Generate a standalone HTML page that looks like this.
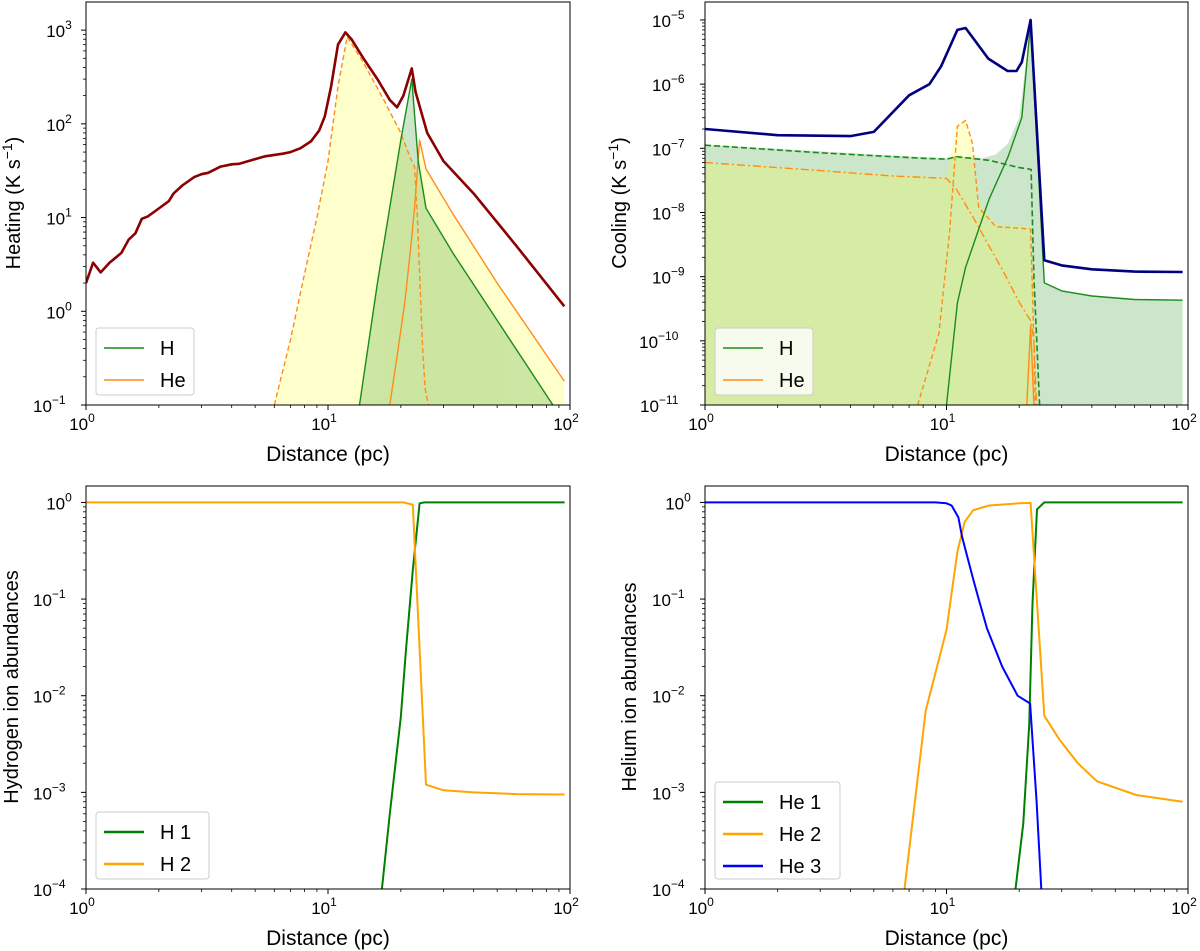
<!DOCTYPE html>
<html><head><meta charset="utf-8"><style>
html,body{margin:0;padding:0;background:#fff;}
svg{display:block;font-family:"Liberation Sans","DejaVu Sans",sans-serif;}
</style></head><body>
<svg id="fig" width="1200" height="951" viewBox="0 0 1200 951"></svg>
<script>
// ---------- Data (x in pc, y values) ----------
const heatTotalX=[1,1.07,1.15,1.25,1.4,1.5,1.6,1.7,1.8,2,2.2,2.3,2.5,2.8,3,3.2,3.6,4,4.3,5,5.5,6.5,7,7.7,8.5,9.2,9.7,10.3,11,11.8,12.5,14,16,18,19.3,20.5,22.2,23,25.7,30,40,60,94.7];
const heatTotalY=[2,3.3,2.6,3.3,4.2,5.8,6.8,9.7,10.3,12.5,15,18,22,27,29,30,35,37,37.5,42,45,48,50,55,65,85,120,250,700,945,800,500,300,180,150,200,390,220,80,40,18,5,1.13];
const heHeatDashX=[6,7,8,9,10,11,12,14,17,20,21.9,22.8,23.4,24,24.6,25.2,26];
const heHeatDashY=[0.1,0.5,2.5,10,40,250,850,450,180,80,43,35,10,2,0.4,0.15,0.1];
const heHeatSolidX=[18,19.5,20.8,22,22.8,23.9,25.4,32.8,50,94.7];
const heHeatSolidY=[0.1,0.4,1.3,5,13,67,33,11,2,0.18];
const hHeatX=[13.5,16,20,22.2,23.6,25.4,32.8,50,85];
const hHeatY=[0.1,2,67,300,40,12.6,4.2,0.8,0.1];

const coolTotalX=[1,2,4,5,7,8.5,9.5,11.1,12,14.9,17.9,19.5,20.5,22.3,25.4,30,40,60,95];
const coolTotalY=[2e-7,1.6e-7,1.55e-7,1.8e-7,6.7e-7,1e-6,1.9e-6,7e-6,7.5e-6,2.5e-6,1.6e-6,1.6e-6,2.2e-6,1e-5,1.8e-9,1.5e-9,1.3e-9,1.2e-9,1.18e-9];
const hCoolDashX=[1,3,8,10,11,15,20,22.4,23,24.3];
const hCoolDashY=[1.12e-7,8.5e-8,7e-8,6.8e-8,7.4e-8,6.5e-8,5e-8,4.7e-8,1e-9,1e-11];
const heCoolDashDotX=[1,3,6,10,11,13,15,17,20,22.4,23,23.6];
const heCoolDashDotY=[6e-8,4.5e-8,3.7e-8,3.4e-8,2.3e-8,8e-9,3e-9,1.3e-9,4e-10,2e-10,1e-10,1e-11];
const heCoolDashX=[7.6,9.3,10.3,11.1,12,12.8,13.6,16,20,22.3,23,23.3];
const heCoolDashY=[1e-11,1.3e-10,5e-9,2.2e-7,2.7e-7,1.2e-7,1.2e-8,6e-9,5.7e-9,5.5e-9,1e-10,1e-11];
const hCoolSolidX=[10,11.1,12,15,18,20.5,22.3,25.4,30,40,60,95];
const hCoolSolidY=[1e-11,3.9e-10,1.4e-9,1.6e-8,7.4e-8,3e-7,9e-6,8e-10,6e-10,5e-10,4.4e-10,4.3e-10];
const heCoolSolidX=[21.5,22.3,23];
const heCoolSolidY=[1e-11,1.7e-10,1e-11];
const hCoolFillX=[1,5,10,11,14,16,18,20,22.3,25.4,30,40,60,95];
const hCoolFillY=[1.15e-7,8e-8,7e-8,7.5e-8,7e-8,8e-8,1.2e-7,3e-7,9e-6,8e-10,6e-10,5e-10,4.4e-10,4.3e-10];
const heCoolFillX=[1,10,11,12,12.8,13.6,16,22.3,23,23.5];
const heCoolFillY=[6e-8,3.5e-8,2.3e-7,2.9e-7,1.2e-7,1.5e-8,6.5e-9,6e-9,5e-10,1e-11];

const h1X=[16.7,18,20,21,22.4,23.9,25,40,95];
const h1Y=[1e-4,6e-4,6e-3,0.03,0.2,0.98,1,1,1];
const h2X=[1,10,20.5,22.4,25.4,30,40,60,95];
const h2Y=[1,1,1,0.95,1.2e-3,1.05e-3,1e-3,0.96e-3,0.95e-3];
const he1X=[19.3,20.8,22,22.7,23.7,25.4,40,95];
const he1Y=[1e-4,4.8e-4,5e-3,0.09,0.85,1,1,1];
const he2X=[6.7,8.2,10,11.1,11.9,12.9,15,20,22.3,25.4,29.4,35,42,61,95];
const he2Y=[1e-4,7e-3,0.048,0.31,0.63,0.83,0.93,0.98,0.99,6.2e-3,3.5e-3,2e-3,1.3e-3,9.4e-4,8e-4];
const he3X=[1,9,10,10.5,11.2,11.6,12.9,13.6,14.7,17,19.7,22.2,23.6,24.7];
const he3Y=[1,1,0.98,0.93,0.7,0.44,0.16,0.1,0.05,0.02,0.01,0.0083,8e-4,1e-4];

const xTickLabels=["0","1","2"];
const heatTickExp=["3","2","1","0","−1"];
const coolTickExp=["−5","−6","−7","−8","−9","−10","−11"];
const abTickExp=["0","−1","−2","−3","−4"];

// ---------- helpers ----------
const NS="http://www.w3.org/2000/svg";
const svg=document.getElementById('fig');
function el(tag,attrs,parent){const e=document.createElementNS(NS,tag);for(const k in attrs)e.setAttribute(k,attrs[k]);(parent||svg).appendChild(e);return e;}
const L=Math.log10;

function panel(id,x0,x1,yt,yb,ymin,ymax,decades){
  const P={id,x0,x1,yt,yb,ymin,ymax};
  P.X=v=>x0+L(v)/2*(x1-x0);
  P.Y=v=>yb-(L(v)-ymin)/(ymax-ymin)*(yb-yt);
  const cp=el('clipPath',{id:'clip'+id});
  el('rect',{x:x0,y:yt,width:x1-x0,height:yb-yt},cp);
  P.g=el('g',{'clip-path':'url(#clip'+id+')'});
  
  
  P.ax=el('g',{});
  
  
  for(let d=0;d<=2;d++){
    const x=P.X(Math.pow(10,d));
    el('line',{x1:x,x2:x,y1:yb,y2:yb+5,stroke:'#000','stroke-width':1},P.ax);
    const t=el('text',{x:x-4,y:yb+25,'font-size':17,'text-anchor':'middle',fill:'#000'},P.ax);
    
    
    t.appendChild(document.createTextNode('10'));
    const s=el('tspan',{'font-size':12,dy:-8},t);s.textContent=xTickLabels[d];
    if(d<2)for(let m=2;m<=9;m++){const xm=P.X(m*Math.pow(10,d));el('line',{x1:xm,x2:xm,y1:yb,y2:yb+3,stroke:'#000','stroke-width':0.8},P.ax);}
  }
  const top=Math.floor(ymax);
  decades.forEach((lab,i)=>{
    const dv=top-i;const y=P.Y(Math.pow(10,dv));
    el('line',{x1:x0-5,x2:x0,y1:y,y2:y,stroke:'#000','stroke-width':1},P.ax);
    const t=el('text',{x:x0-8-lab.length*6.2,y:y+7,'font-size':17,'text-anchor':'end',fill:'#000'},P.ax);
    
    
    t.appendChild(document.createTextNode('10'));
    const s=el('tspan',{'font-size':12,dy:-8},t);s.textContent=lab;
  });
  for(let d=Math.floor(ymin);d<=top;d++)for(let m=2;m<=9;m++){
    const v=L(m)+d; if(v<ymin||v>ymax)continue;
    const y=P.Y(Math.pow(10,v));
    el('line',{x1:x0-3,x2:x0,y1:y,y2:y,stroke:'#000','stroke-width':0.8},P.ax);
  }
  const xt=el('text',{x:(x0+x1)/2,y:yb+56,'font-size':21,'text-anchor':'middle',fill:'#000'},P.ax);
  
  
  xt.textContent='Distance (pc)';
  return P;
}
function frame(P){el('rect',{x:P.x0,y:P.yt,width:P.x1-P.x0,height:P.yb-P.yt,fill:'none',stroke:'#000','stroke-width':1},P.ax);svg.appendChild(P.ax);}
function pts(P,xs,ys){return xs.map((x,i)=>P.X(x).toFixed(1)+','+P.Y(ys[i]).toFixed(1)).join(' ');}
function line(P,xs,ys,color,w,dash,name){
  const e=el('polyline',{points:pts(P,xs,ys),fill:'none',stroke:color,'stroke-width':w,'stroke-linejoin':'round'},P.g);
  if(dash)e.setAttribute('stroke-dasharray',dash);
  
  
  return e;
}
function fill(P,xs,ys,color,parent,name){
  const p=pts(P,xs,ys)+' '+P.X(xs[xs.length-1]).toFixed(1)+','+(P.yb+5)+' '+P.X(xs[0]).toFixed(1)+','+(P.yb+5);
  const e=el('polygon',{points:p,fill:color,stroke:'none'},parent||P.g);
  
  
}
function ytitle(x,y,parts,name){
  const t=el('text',{transform:'translate('+x+','+y+') rotate(-90)','font-size':20,'text-anchor':'middle',fill:'#000'});
  
  
  parts.forEach(p=>{const s=el('tspan',p.sup?{'font-size':14,dy:-8}:(p.down?{dy:8}:{}),t);s.textContent=p.t;});
}
function legend(x,y,w,h,entries,name){
  const g=el('g',{});
  
  
  el('rect',{x:x,y:y,width:w,height:h,rx:3,fill:'#fff','fill-opacity':0.8,stroke:'#ccc','stroke-width':1},g);
  entries.forEach((en,i)=>{
    const yy=y+20+i*32;
    const ln=el('line',{x1:x+8,x2:x+48,y1:yy,y2:yy,stroke:en.c,'stroke-width':en.w||1.5},g);
    
    
    const t=el('text',{x:x+64,y:yy+7,'font-size':20,fill:'#000'},g);
    
    
    t.setAttribute('xml:space','preserve');
    t.textContent=en.t;
  });
}

// ---------- Panel 1: Heating ----------
const P1=panel('heating',86,570,2,405,-1,3.3,heatTickExp);
const g1=el('g',{opacity:0.2},P1.g);
fill(P1,heHeatDashX,heHeatDashY,'#ffff00',g1,'he-heating-fill');
fill(P1,heHeatSolidX,heHeatSolidY,'#ffff00',g1,'he-heating-fill-2');
fill(P1,hHeatX,hHeatY,'rgba(0,128,0,0.2)',null,'h-heating-fill');
line(P1,heHeatDashX,heHeatDashY,'#ff8c1a',1.4,'5,3','he-heating-dashed');
line(P1,heHeatSolidX,heHeatSolidY,'#ff8c1a',1.4,null,'he-heating-line');
line(P1,hHeatX,hHeatY,'#1a8c1a',1.4,null,'h-heating-line');
line(P1,heatTotalX,heatTotalY,'#8b0000',2.6,null,'total-heating-line');
frame(P1);
ytitle(20,203,[{t:'Heating (K s'},{t:'−1',sup:true},{t:')',down:true}],'y-axis-title-heating');
legend(96,328,98,67,[{t:'H',c:'#1a8c1a'},{t:'He',c:'#ff8c1a'}],'legend-heating');

// ---------- Panel 2: Cooling ----------
const P2=panel('cooling',705,1188,2,405,-11,-4.72,coolTickExp);
fill(P2,hCoolFillX,hCoolFillY,'rgba(0,128,0,0.2)',null,'h-cooling-fill');
fill(P2,heCoolFillX,heCoolFillY,'rgba(255,255,0,0.2)',null,'he-cooling-fill');
line(P2,hCoolDashX,hCoolDashY,'#1a8c1a',1.6,'6,3','h-cooling-dashed');
line(P2,heCoolDashDotX,heCoolDashDotY,'#ff8c1a',1.4,'8,3,2,3','he-cooling-dashdot');
line(P2,heCoolDashX,heCoolDashY,'#ff8c1a',1.4,'5,3','he-cooling-dashed');
line(P2,hCoolSolidX,hCoolSolidY,'#1a8c1a',1.4,null,'h-cooling-line');
line(P2,heCoolSolidX,heCoolSolidY,'#ff8c1a',1.4,null,'he-cooling-line');
line(P2,coolTotalX,coolTotalY,'#000080',2.6,null,'total-cooling-line');
frame(P2);
ytitle(626,203,[{t:'Cooling (K s'},{t:'−1',sup:true},{t:')',down:true}],'y-axis-title-cooling');
legend(715,328,98,67,[{t:'H',c:'#1a8c1a'},{t:'He',c:'#ff8c1a'}],'legend-cooling');

// ---------- Panel 3: Hydrogen ----------
const P3=panel('hydrogen',86,570,486,889,-4,0.17,abTickExp);
line(P3,h1X,h1Y,'#008000',2,null,'h1-line');
line(P3,h2X,h2Y,'#ffa500',2,null,'h2-line');
frame(P3);
ytitle(18,687,[{t:'Hydrogen ion abundances'}],'y-axis-title-hydrogen');
legend(96,812,113,67,[{t:'H  1',c:'#008000',w:2.5},{t:'H  2',c:'#ffa500',w:2.5}],'legend-hydrogen');

// ---------- Panel 4: Helium ----------
const P4=panel('helium',705,1188,486,889,-4,0.17,abTickExp);
line(P4,he1X,he1Y,'#008000',2,null,'he1-line');
line(P4,he2X,he2Y,'#ffa500',2,null,'he2-line');
line(P4,he3X,he3Y,'#0000ff',2,null,'he3-line');
frame(P4);
ytitle(636,687,[{t:'Helium ion abundances'}],'y-axis-title-helium');
legend(715,782,125,97,[{t:'He  1',c:'#008000',w:2.5},{t:'He  2',c:'#ffa500',w:2.5},{t:'He  3',c:'#0000ff',w:2.5}],'legend-helium');
</script>
</body></html>
